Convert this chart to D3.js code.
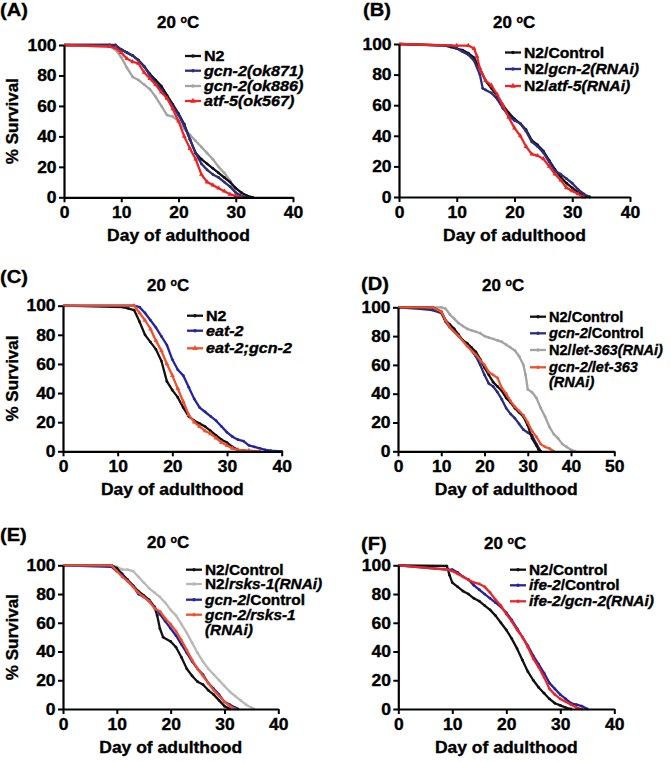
<!DOCTYPE html>
<html><head><meta charset="utf-8">
<script src="https://cdn.jsdelivr.net/npm/d3@7"></script>
<style>
body{margin:0;background:#fff}
svg{display:block}
text{font-family:"Liberation Sans",Arial,Helvetica,sans-serif;font-weight:bold;fill:#000;stroke:#000;stroke-width:0.35px}
</style>
</head><body>
<svg id="c" width="671" height="762"></svg>
<script>
// ---------- tick labels ----------
const xTicks40 = [0, 10, 20, 30, 40];
const xTicks50 = [0, 10, 20, 30, 40, 50];
const yTicks = [0, 20, 40, 60, 80, 100];
const titleText = "20 ";
const xTitle = "Day of adulthood";
const yTitle = "% Survival";

// ---------- Panel A ----------
const A_N2 = [[0,100],[8,100],[9,99],[10,97],[11,95],[12,93],[13,90],[14,86],[15,81],[16,77],[17,73],[18,67],[19,61],[20,55],[21,48],[22,38],[23,29],[24,25],[25,22],[26,19],[27,16],[28,13],[29,10],[30,6],[31,3],[32,1],[33,0]];
const A_ok871 = [[0,100],[9,100],[10,97],[11,95],[12,93],[13,90],[14,86],[15,80],[16,75],[17,71],[18,65],[19,60],[20,54],[21,47],[22,38],[23,29],[24,22],[25,18],[26,15],[27,13],[28,10],[29,7],[30,3],[31,1],[32,0]];
const A_ok886 = [[0,100],[8,99],[9,97],[10,92],[11,85],[12,79],[13,77],[14,74],[15,71],[16,66],[17,60],[18,54],[19,53],[20,50],[21,45],[22,41],[23,37],[24,33],[25,29],[26,25],[27,20],[28,16],[29,11],[30,3],[31,0]];
const A_atf5 = [[0,100],[8,99],[9,98],[10,95],[11,91],[12,89],[13,88],[14,82],[15,78],[16,74],[17,69],[18,65],[19,58],[20,50],[21,40],[22,32],[23,25],[24,15],[25,10],[26,8],[27,6],[28,4],[29,2],[30,1],[31,0]];

// ---------- Panel B ----------
const B_N2 = [[0,100],[8,99],[9,98],[10,97],[11,96],[12,94],[13,91],[14,84],[15,76],[16,71],[17,66],[18,60],[19,55],[20,51],[21,48],[22,44],[23,37],[24,34],[25,30],[26,24],[27,18],[28,13],[29,9],[30,6],[31,3],[32,1],[33,0]];
const B_gcn2 = [[0,100],[9,99],[10,97],[11,95],[12,93],[13,89],[14,80],[14.5,71],[15,70],[16,68],[17,64],[18,58],[19,53],[20,50],[21,48],[22,43],[23,36],[24,33],[25,29],[26,23],[27,17],[28,15],[29,12],[30,9],[31,5],[32,2],[33,0]];
const B_atf5 = [[0,100],[10,99],[12,99],[13,97],[13.5,92],[14,84],[15,76],[16,73],[17,67],[18,60],[19,52],[20,45],[21,40],[22,33],[23,28],[24,27],[25,25],[26,20],[27,15],[28,11],[29,6],[30,4],[31,2],[32,0]];

// ---------- Panel C ----------
const C_N2 = [[0,100],[11,99],[12,98],[13,97],[14,89],[15,80],[16,75],[17,70],[18,62],[19,48],[20,42],[21,37],[22,30],[23,24],[24,21],[25,19],[26,17],[27,14],[28,11],[29,8],[30,6],[31,3],[32,1],[33,0.5],[34,0]];
const C_eat2 = [[0,100],[13,100],[14,99],[15,95],[16,90],[17,85],[18,79],[19,73],[20,63],[21,56],[22,52],[23,44],[24,36],[25,30],[26,27],[27,24],[28,21],[29,17],[30,13],[31,10],[32,8],[33,7],[34,4],[35,3],[36,2],[37,1],[38,0.5],[40,0]];
const C_eat2gcn2 = [[0,100],[13,100],[14,95],[15,90],[16,84],[17,76],[18,69],[19,60],[20,52],[21,43],[22,34],[23,25],[24,20],[25,17],[26,14],[27,12],[28,9],[29,6],[30,4],[31,2],[32,1],[34,0.5],[36,0]];

// ---------- Panel D ----------
const D_N2 = [[0,100],[8,100],[10,97],[11,91],[12,88],[13,85],[14,81],[15,77],[16,75],[17,72],[18,69],[19,64],[20,58],[21,53],[22,48],[23,45],[24,42],[25,37],[26,34],[27,30],[28,27],[29,24],[30,18],[31,9],[32,4],[32.5,1],[33,0]];
const D_gcn2 = [[0,100],[5,99],[8,98],[10,96],[11,90],[12,86],[14,80],[16,74],[18,66],[19,60],[20,53],[21,47],[22,45],[23,41],[24,36],[25,30],[26,26],[27,23],[28,19],[29,15],[30,13],[31,11],[32,5],[33,0]];
const D_let363 = [[0,100],[10,100],[11,99],[12,95],[13,92],[14,89],[15,87],[16,85],[17,84],[18,83],[19,82],[20,80],[21,79],[22,78],[23,77],[24,76],[25,74],[26,72],[27,70],[28,66],[29,60],[29.5,53],[30,43],[31,41],[32,37],[33,30],[34,24],[35,17],[36,12],[37,9],[38,5],[39,3],[40,1],[41,0]];
const D_gcn2let363 = [[0,100],[8,100],[10,97],[11,91],[12,86],[14,80],[16,73],[18,67],[20,60],[21,55],[22,53],[23,51],[24,44],[25,40],[26,35],[27,31],[28,28],[29,25],[30,20],[31,14],[32,10],[33,5],[34,3],[35,2],[36,0]];

// ---------- Panel E ----------
const E_N2 = [[0,100],[9,100],[10,98],[11,94],[12,90],[13,86],[14,82],[15,79],[16,76],[17,71],[17.5,65],[18,56],[18.6,50],[20,47],[21,43],[22,36],[23,28],[24,23],[25,19],[26,17],[27,13],[28,10],[29,6],[30,2],[31,0]];
const E_rsks1 = [[0,100],[9,100],[10,99],[11,97],[12,97],[13,96],[14,92],[15,88],[16,84],[17,81],[18,78],[19,74],[20,69],[21,65],[22,59],[23,53],[24,46],[25,39],[26,33],[27,28],[28,24],[29,20],[30,16],[31,12],[32,9],[33,6],[34,3],[35,1],[35.5,0]];
const E_gcn2 = [[0,100],[9,99],[10,96],[11,93],[12,89],[13,86],[14,80],[15,78],[16,75],[17,71],[18,66],[19,61],[20,56],[21,51],[22,45],[23,39],[24,33],[25,28],[26,24],[27,18],[28,14],[29,10],[30,5],[31,3],[32,1],[32.5,0]];
const E_gcn2rsks1 = [[0,100],[9,100],[10,96],[11,92],[12,89],[13,85],[14,81],[15,78],[16,75],[17,70],[18,68],[19,63],[20,59],[21,54],[22,48],[23,41],[24,34],[25,28],[26,23],[27,18],[28,13],[29,9],[30,5],[31,2],[32,0]];

// ---------- Panel F ----------
const F_N2 = [[0,100],[9,99.5],[9.5,93],[10,88],[11,85],[12,82],[13,80],[14,77],[15,75],[16,72],[17,69],[18,65],[19,60],[20,55],[21,49],[22,42],[23,34],[24,26],[25,20],[26,15],[27,11],[28,7],[29,4],[30,2.5],[31,1],[32,0]];
const F_ife2 = [[0,100],[9,97],[10,97],[11,95],[12,92],[13,90],[14,86],[15,83],[16,80],[17,77],[18,74],[19,71],[20,67],[21,62],[22,56],[23,50],[24,44],[25,37],[26,31],[27,25],[28,18],[29,14],[30,10],[31,7],[32,4],[33,3],[34,2],[35,0]];
const F_ife2gcn2 = [[0,100],[9,97],[10,96],[11,94],[12,92],[13,90],[14,88],[15,87],[16,85],[17,81],[18,76],[19,72],[20,66],[21,61],[22,55],[23,50],[24,43],[25,35],[26,29],[27,22],[28,14],[29,10],[30,7],[31,5],[32,3],[33,1],[34,0]];

// ---------- legend labels (segments: [text, italic]) ----------
const A_labels = [[["N2",false]],[["gcn-2(ok871)",true]],[["gcn-2(ok886)",true]],[["atf-5(ok567)",true]]];
const B_labels = [[["N2/Control",false]],[["N2/",false],["gcn-2(RNAi)",true]],[["N2/",false],["atf-5(RNAi)",true]]];
const C_labels = [[["N2",false]],[["eat-2",true]],[["eat-2;gcn-2",true]]];
const D_labels = [[["N2/Control",false]],[["gcn-2",true],["/Control",false]],[["N2/",false],["let-363(RNAi)",true]],[["gcn-2/let-363",true]]];
const E_labels = [[["N2/Control",false]],[["N2/",false],["rsks-1(RNAi)",true]],[["gcn-2",true],["/Control",false]],[["gcn-2/rsks-1",true]]];
const F_labels = [[["N2/Control",false]],[["ife-2",true],["/Control",false]],[["ife-2/gcn-2(RNAi)",true]]];
const RNAi_wrap = [["(RNAi)",true]];

// ---------- styling / layout ----------
const SX = 1.06;
const BLACK = "#111111", NAVY = "#2b2d7e", GREY = "#a3a3a3", RED = "#ee2424", ORANGE = "#f0502c", BLUE = "#2424a0", LGREY = "#b8b8b8";

const svg = d3.select("#c");

function stext(g, x, y, segs, size, anchor, rotate, sx) {
  const k = sx || SX;
  const t = g.append("text")
    .attr("transform", `translate(${x},${y})` + (rotate ? ` rotate(${rotate})` : ` scale(${k},1)`))
    .attr("font-size", size)
    .attr("text-anchor", anchor || "start");
  segs.forEach(s => t.append("tspan").text(s[0]).attr("font-style", s[1] ? "italic" : "normal"));
  return t;
}

const panels = [
  {lab:"(A)", lx:0, ly:16, tx:157, ty:28, x0:64, x1:293, yt:45, yb:197.3, xmax:40, xt:xTicks40, ytitle:true,
   series:[{d:A_ok886,c:GREY},{d:A_N2,c:BLACK},{d:A_ok871,c:NAVY},{d:A_atf5,c:RED,tri:true}],
   leg:{x:185, sx:1.15, rows:[56,70.7,86,101], items:[[BLACK,A_labels[0]],[NAVY,A_labels[1]],[GREY,A_labels[2]],[RED,A_labels[3],true]]}},
  {lab:"(B)", lx:363, ly:16, tx:493, ty:28, x0:399, x1:630, yt:44, yb:197, xmax:40, xt:xTicks40, ytitle:false,
   series:[{d:B_N2,c:BLACK},{d:B_gcn2,c:NAVY},{d:B_atf5,c:RED,tri:true}],
   leg:{x:505, sx:1.12, rows:[52.5,69,86], items:[[BLACK,B_labels[0]],[NAVY,B_labels[1]],[RED,B_labels[2],true]]}},
  {lab:"(C)", lx:0, ly:283, tx:147, ty:290.7, x0:63, x1:281.7, yt:305.7, yb:451.3, xmax:40, xt:xTicks40, ytitle:true,
   series:[{d:C_N2,c:BLACK},{d:C_eat2,c:BLUE},{d:C_eat2gcn2,c:ORANGE,tri:true}],
   leg:{x:187, sx:1.15, rows:[315.7,330.7,348.3], items:[[BLACK,C_labels[0]],[BLUE,C_labels[1]],[ORANGE,C_labels[2],true]]}},
  {lab:"(D)", lx:361, ly:290, tx:482, ty:291, x0:398, x1:614.3, yt:307.3, yb:451.3, xmax:50, xt:xTicks50, ytitle:false,
   series:[{d:D_let363,c:GREY},{d:D_gcn2,c:NAVY},{d:D_N2,c:BLACK},{d:D_gcn2let363,c:ORANGE}],
   leg:{x:530, sx:1.04, rows:[316.7,333.3,350,367.3], extra:{y:382.3, segs:RNAi_wrap},
        items:[[BLACK,D_labels[0]],[NAVY,D_labels[1]],[GREY,D_labels[2]],[ORANGE,D_labels[3]]]}},
  {lab:"(E)", lx:0, ly:541, tx:147, ty:548, x0:63, x1:278.3, yt:565.3, yb:709, xmax:40, xt:xTicks40, ytitle:true,
   series:[{d:E_rsks1,c:LGREY},{d:E_N2,c:BLACK},{d:E_gcn2,c:BLUE},{d:E_gcn2rsks1,c:ORANGE}],
   leg:{x:186, sx:1.1, rows:[569.7,584,599.7,614.7], extra:{y:629.7, segs:RNAi_wrap},
        items:[[BLACK,E_labels[0]],[LGREY,E_labels[1]],[BLUE,E_labels[2]],[ORANGE,E_labels[3]]]}},
  {lab:"(F)", lx:361, ly:550, tx:484, ty:548.7, x0:398.3, x1:614.3, yt:565.3, yb:709, xmax:40, xt:xTicks40, ytitle:false,
   series:[{d:F_N2,c:BLACK},{d:F_ife2,c:BLUE},{d:F_ife2gcn2,c:RED}],
   leg:{x:510, sx:1.1, rows:[569.7,585.3,601.3], items:[[BLACK,F_labels[0]],[BLUE,F_labels[1]],[RED,F_labels[2]]]}}
];

panels.forEach(p => {
  const g = svg.append("g");
  const x = d3.scaleLinear().domain([0, p.xmax]).range([p.x0, p.x1]);
  const y = d3.scaleLinear().domain([0, 100]).range([p.yb, p.yt]);

  // panel letter and title
  stext(g, p.lx, p.ly, [[p.lab,false]], 19, "start");
  const tt = g.append("text").attr("transform", `translate(${p.tx},${p.ty}) scale(${SX},1)`).attr("font-size", 16);
  tt.append("tspan").text(titleText);
  tt.append("tspan").text("o").attr("font-size", 10).attr("dy", -5);
  tt.append("tspan").text("C").attr("dy", 5);

  // series
  const line = d3.line().x(d => x(d[0])).y(d => y(d[1]));
  p.series.forEach(s => {
    g.append("path").datum(s.d).attr("d", line).attr("fill", "none")
      .attr("stroke", s.c).attr("stroke-width", 2.3).attr("stroke-linejoin", "round");
    const sym = d3.symbol().type(s.tri ? d3.symbolTriangle : d3.symbolCircle).size(s.tri ? 10 : 6);
    g.selectAll(null).data(s.d.slice(1)).enter().append("path")
      .attr("d", sym).attr("transform", d => `translate(${x(d[0])},${y(d[1])})`).attr("fill", s.c);
  });

  // axes
  const ax = g.append("g").attr("transform", `translate(0,${p.yb})`)
    .call(d3.axisBottom(x).tickValues(p.xt).tickSize(5).tickSizeOuter(0).tickPadding(4).tickFormat(d3.format("d")));
  const ay = g.append("g").attr("transform", `translate(${p.x0},0)`)
    .call(d3.axisLeft(y).tickValues(yTicks).tickSize(5).tickSizeOuter(0).tickPadding(2).tickFormat(d3.format("d")));
  [ax, ay].forEach(a => {
    a.select(".domain").attr("stroke", "#000").attr("stroke-width", 2.2);
    a.selectAll(".tick line").attr("stroke", "#000").attr("stroke-width", 2);
    a.selectAll("text").attr("font-size", 16.5).attr("fill", "#000")
      .attr("font-family", "Liberation Sans, Arial, sans-serif").attr("font-weight", "bold");
    a.selectAll(".tick text").attr("transform", `scale(${SX},1)`);
  });

  // axis titles
  stext(g, (p.x0 + p.x1) / 2, p.yb + 44, [[xTitle,false]], 16.5, "middle");
  if (p.ytitle) stext(g, 18, (p.yt + p.yb) / 2, [[yTitle,false]], 17, "middle", -90);

  // legend
  p.leg.items.forEach((it, i) => {
    const ry = p.leg.rows[i];
    g.append("line").attr("x1", p.leg.x).attr("x2", p.leg.x + 16).attr("y1", ry).attr("y2", ry)
      .attr("stroke", it[0]).attr("stroke-width", 2.3);
    const sym = d3.symbol().type(it[2] ? d3.symbolTriangle : d3.symbolCircle).size(it[2] ? 14 : 9);
    g.append("path").attr("d", sym).attr("transform", `translate(${p.leg.x + 8},${ry})`).attr("fill", it[0]);
    stext(g, p.leg.x + 19, ry + 5, it[1], 14, "start", null, p.leg.sx);
  });
  if (p.leg.extra) stext(g, p.leg.x + 19, p.leg.extra.y + 5, p.leg.extra.segs, 14, "start", null, p.leg.sx);
});
</script>
</body></html>
